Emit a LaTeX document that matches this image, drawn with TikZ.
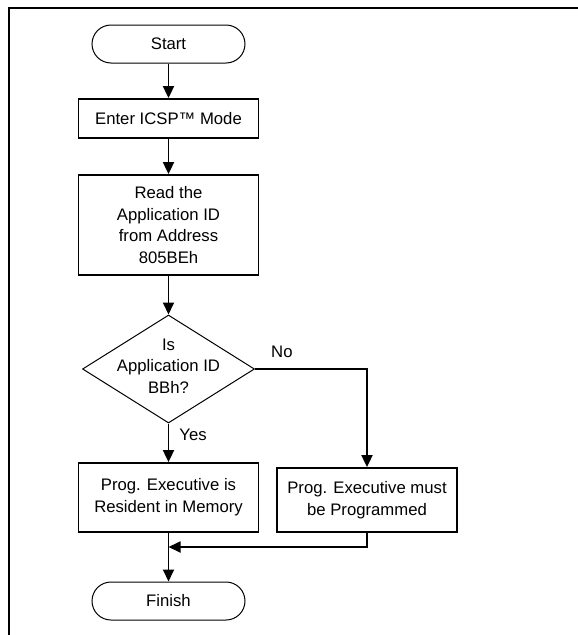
\documentclass[tikz,border=0pt]{standalone}
\usepackage{fontspec}
\setmainfont{Liberation Sans}
\usetikzlibrary{shapes.geometric,arrows.meta}
\tikzset{
  font={\fontsize{16.7pt}{21.7pt}\selectfont}}

\begin{document}
\begin{tikzpicture}[x=1pt,y=1pt]
\tikzstyle{every node}+=[inner sep=0pt]
\tikzstyle{term}=[draw, line width=1pt, rounded corners=19pt, minimum width=153pt, minimum height=38pt]
\tikzstyle{proc}=[draw, line width=1.8pt, minimum width=180pt, align=center]
\tikzstyle{flow}=[line width=1.8pt, -{Triangle[length=12pt,width=11pt]}]
\useasboundingbox (0,0) rectangle (578,-635);
\draw [line width=2pt] (8.5,-635) -- (8.5,-7.5) -- (578,-7.5);
\node [term] (start) at (168.5,-44) {Start};
\node [proc, minimum height=39pt] (icsp) at (168.5,-118.5) {Enter ICSP™ Mode};
\node [proc, minimum height=100pt] (read) at (168.5,-225) {Read the\\Application ID\\from Address\\805BEh};
\node [draw, diamond, line width=1pt, minimum width=172pt, minimum height=108pt] (check) at (168.5,-369) {};
\node [align=center] (checktext) at (168.5,-366) {Is\\Application ID\\BBh?};
\node [proc, minimum height=69pt] (resid) at (168.5,-497.5) {Prog. Executive is\\Resident in Memory};
\node [proc, minimum height=64pt] (prog) at (367,-500) {Prog. Executive must\\be Programmed};
\node [term] (finish) at (168.5,-601) {Finish};
\coordinate (merge) at (168.5,-547);
\draw [flow] (start) -- (icsp);
\draw [flow] (icsp) -- (read);
\draw [flow] (read) -- (check);
\draw [flow] (check.south) -- node [pos=0.3, right=10pt] (yes) {Yes} (resid.north);
\draw [flow] (check.east) -| node [pos=0.12, above=10pt] (no) {No} (prog.north);
\draw [flow] (prog.south) |- (merge);
\draw [flow] (resid) -- (finish);
\end{tikzpicture}
\end{document}
